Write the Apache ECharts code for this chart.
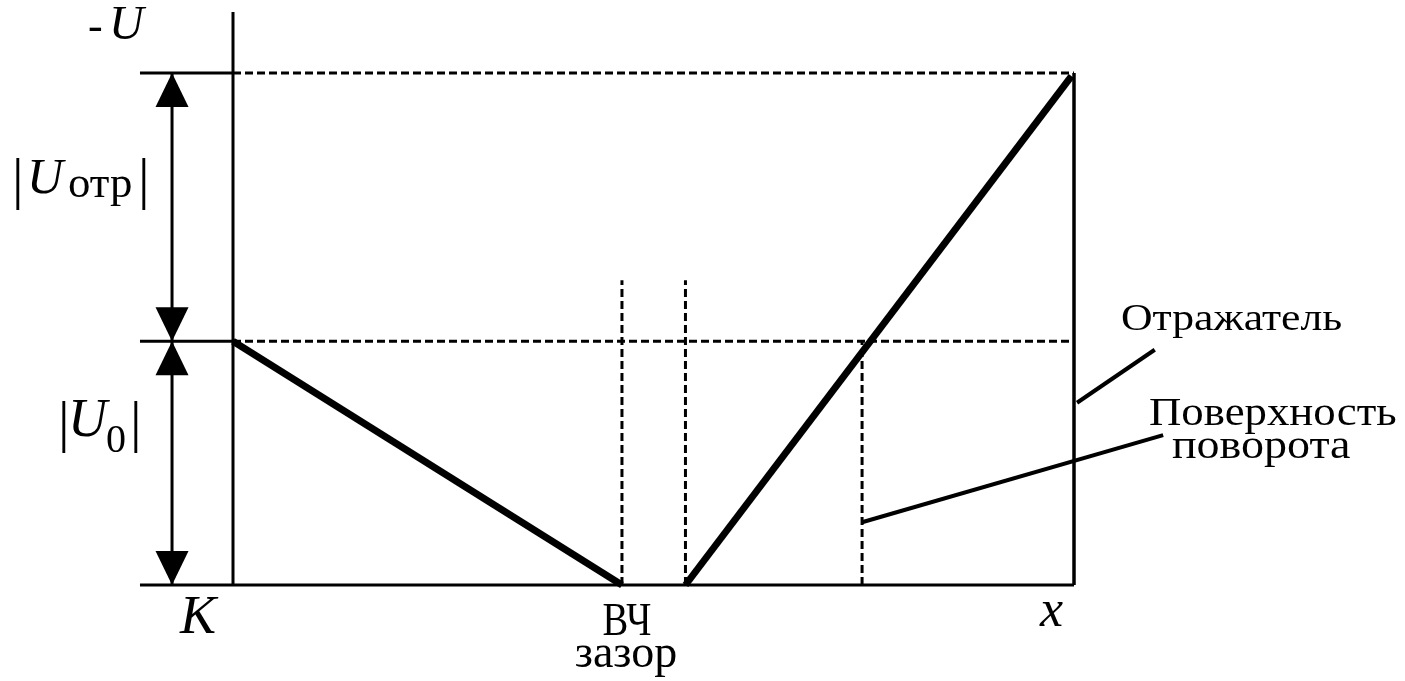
<!DOCTYPE html>
<html>
<head>
<meta charset="utf-8">
<script src="https://cdn.jsdelivr.net/npm/echarts@6/dist/echarts.min.js"></script>
<style>
html,body{margin:0;padding:0;background:#fff;}
#c{width:1405px;height:681px;}
</style>
</head>
<body>
<div id="c"></div>
<script>
// ---- data (x: distance, K = 0, reflector = 100; y: -U, |U0| = 4) ----
const xMarks = [0, 46.25, 53.8, 74.8, 100];      // K, gap left, gap right, turn surface, reflector
const levels = [0, 4.0, 8.4];                     // 0, |U0|, |U0|+|Uotr|
const potentialLeft = [[0, 4.0], [46.25, 0]];
const potentialRight = [[53.8, 0], [99.7, 8.35]];
const gapTop = 5.0;
const axisTopY = 9.4;
const leftExtentX = -11.06;
const dimX = -7.25;
const leaderReflector = [[100.36, 2.99], [109.6, 3.86]];
const leaderTurn = [[74.8, 1.03], [110.6, 2.46]];
const axisLabels = ['K', 'ВЧ', 'зазор', 'x'];
const yLabels = ['-', 'U', 'отр', '0'];
const calloutLabels = ['Отражатель', 'Поверхность', 'поворота'];

const chart = echarts.init(document.getElementById('c'), null, {renderer: 'canvas'});

const K = xMarks[0], gapL = xMarks[1], gapR = xMarks[2], turn = xMarks[3], refl = xMarks[4];
const U0 = levels[1], Utop = levels[2];

function solid(data, w) {
  return {type: 'line', data: data, clip: false, symbol: 'none', silent: true,
    lineStyle: {color: '#000', width: w, type: 'solid', cap: 'butt', opacity: 1}, z: 2};
}
function dashed(data, w) {
  return {type: 'line', data: data, clip: false, symbol: 'none', silent: true,
    lineStyle: {color: '#000', width: w, type: [8, 4], opacity: 1}, z: 1};
}

const serif = '"Liberation Serif", "DejaVu Serif", serif';
function txt(text, x, y, size, opts) {
  opts = opts || {};
  return {type: 'text', x: x, y: y, scaleX: opts.sx || 1, scaleY: opts.sy || 1, z: 10,
    style: {text: text, fill: '#000',
      font: (opts.italic ? 'italic ' : '') + size + 'px ' + serif,
      align: opts.align || 'left', verticalAlign: 'middle'}};
}

// x: 8.41 px per unit, K at pixel 233; axis -20..120
// y: 60.95 px per unit, 0 at pixel 585; axis 0..8.4
const option = {
  animation: false,
  backgroundColor: '#fff',
  grid: {left: 64.8, right: 162.8, top: 73, bottom: 96, show: false},
  xAxis: {type: 'value', min: -20, max: 120, show: false},
  yAxis: {type: 'value', min: 0, max: 8.4, show: false},
  series: [
    solid([[leftExtentX, 0], [refl, 0]], 3),
    solid([[K, 0], [K, axisTopY]], 3),
    solid([[refl, 0], [refl, Utop]], 3.5),
    solid([[leftExtentX, Utop], [K, Utop]], 3),
    dashed([[K, Utop], [refl, Utop]], 3),
    solid([[leftExtentX, U0], [K, U0]], 3),
    dashed([[K, U0], [refl, U0]], 3),
    dashed([[gapL, 0], [gapL, gapTop]], 3),
    dashed([[gapR, 0], [gapR, gapTop]], 3),
    dashed([[turn, 0], [turn, U0]], 3),
    solid(potentialLeft, 7),
    solid(potentialRight, 7),
    solid([[dimX, 0], [dimX, Utop]], 3),
    solid(leaderReflector, 4),
    solid(leaderTurn, 4),
    {type: 'scatter', clip: false, silent: true, z: 3,
      symbol: 'triangle', symbolSize: [33, 34], symbolOffset: [0, '50%'],
      itemStyle: {color: '#000', opacity: 1},
      data: [[dimX, Utop], [dimX, U0]]},
    {type: 'scatter', clip: false, silent: true, z: 3,
      symbol: 'path://M0,0L2,0L1,2Z', symbolSize: [33, 34], symbolOffset: [0, '-50%'],
      itemStyle: {color: '#000', opacity: 1},
      data: [[dimX, U0], [dimX, 0]]}
  ],
  graphic: [
    // -U
    txt(yLabels[0], 88, 43 - 0.3375 * 44, 44),
    txt(yLabels[1], 109, 43 - 0.3375 * 48, 48, {italic: true}),
    // |U отр|
    txt('|', 12, 202 - 0.3375 * 58, 58),
    txt(yLabels[1], 27, 197 - 0.3375 * 50, 50, {italic: true}),
    txt(yLabels[2], 68, 200 - 0.3375 * 44, 44, {sx: 1.02}),
    txt('|', 138, 202 - 0.3375 * 58, 58),
    // |U0|
    txt('|', 58, 445 - 0.3375 * 58, 58),
    txt(yLabels[1], 68, 440 - 0.3375 * 54, 54, {italic: true}),
    txt(yLabels[3], 106, 455 - 0.3375 * 40, 40),
    txt('|', 130, 445 - 0.3375 * 58, 58),
    // axis labels
    txt(axisLabels[0], 180, 637 - 0.3375 * 54, 54, {italic: true}),
    txt(axisLabels[1], 627, 638 - 0.3375 * 46, 46, {align: 'center', sx: 0.84}),
    txt(axisLabels[2], 626, 670 - 0.3375 * 46, 46, {align: 'center'}),
    txt(axisLabels[3], 1040, 630 - 0.3375 * 52, 52, {italic: true}),
    // callouts
    txt(calloutLabels[0], 1121, 333 - 0.3375 * 38, 38, {sx: 1.15}),
    txt(calloutLabels[1], 1149, 428 - 0.3375 * 40, 40, {sx: 1.12}),
    txt(calloutLabels[2], 1172, 461 - 0.3375 * 40, 40, {sx: 1.15})
  ]
};
chart.setOption(option);
</script>
</body>
</html>
